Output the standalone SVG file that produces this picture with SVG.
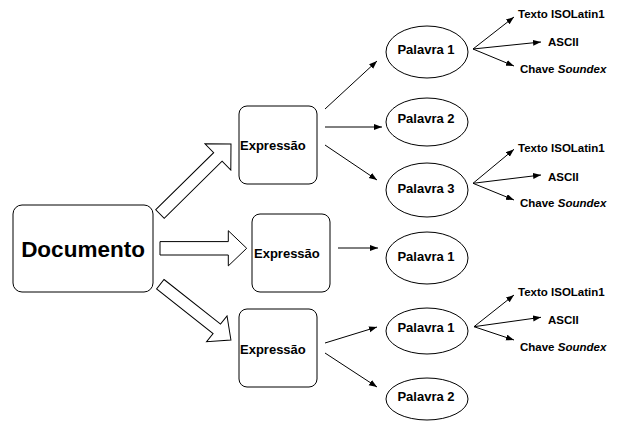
<svg xmlns="http://www.w3.org/2000/svg" width="618" height="421" viewBox="0 0 618 421">
<defs>
<marker id="ah" markerUnits="userSpaceOnUse" markerWidth="9" markerHeight="7" refX="8" refY="3" orient="auto">
<path d="M0,0 L8,3 L0,6 z" fill="#000"/>
</marker>
<style>
.box{fill:#fff;stroke:#000;stroke-width:1}
.blk{fill:#fff;stroke:#000;stroke-width:1}
.ell{fill:#fff;stroke:#000;stroke-width:1}
.ln{stroke:#000;stroke-width:1;fill:none;marker-end:url(#ah)}
text{font-family:"Liberation Sans",Arial,sans-serif;font-weight:bold;fill:#000}
.t13{font-size:13px}
.pal{font-size:13px;text-anchor:middle}
.sm{font-size:11.5px}
.doc{font-size:22.5px;text-anchor:middle}
</style>
</defs>
<rect width="618" height="421" fill="#fff"/>

<g id="documento">
<rect class="box" x="13" y="205" width="140" height="87" rx="9"/>
<text class="doc" x="83" y="256.5">Documento</text>
</g>

<g id="block-arrows">
<path class="blk" transform="translate(160,214) rotate(-44.6)" d="M0,-6 H81.3 V-18.4 L99.7,0 L81.3,18.4 V6 H0 Z"/>
<path class="blk" transform="translate(160,248.3)" d="M0,-6.7 H68.3 V-17.6 L86.7,0 L68.3,17.6 V6.7 H0 Z"/>
<path class="blk" transform="translate(160.3,284.2) rotate(38.3)" d="M0,-6 H72 V-16.5 L90,0 L72,16.5 V6 H0 Z"/>
</g>

<g id="expressao1">
<rect class="box" x="239" y="106" width="78" height="78" rx="8"/>
<text class="t13" x="240" y="149.7">Expressão</text>
</g>
<g id="expressao2">
<rect class="box" x="252" y="214" width="78" height="78" rx="8"/>
<text class="t13" x="254" y="258">Expressão</text>
</g>
<g id="expressao3">
<rect class="box" x="239" y="309" width="78" height="78" rx="8"/>
<text class="t13" x="240" y="354">Expressão</text>
</g>

<g id="palavra1a">
<ellipse class="ell" cx="427" cy="52" rx="41" ry="26"/>
<text class="pal" x="426" y="54">Palavra 1</text>
</g>
<g id="palavra2a">
<ellipse class="ell" cx="427" cy="122" rx="41" ry="24"/>
<text class="pal" x="426" y="123.2">Palavra 2</text>
</g>
<g id="palavra3">
<ellipse class="ell" cx="427" cy="190" rx="41" ry="27"/>
<text class="pal" x="426" y="193">Palavra 3</text>
</g>
<g id="palavra1b">
<ellipse class="ell" cx="427" cy="258" rx="41" ry="26"/>
<text class="pal" x="426" y="261.4">Palavra 1</text>
</g>
<g id="palavra1c">
<ellipse class="ell" cx="427" cy="331" rx="41" ry="23"/>
<text class="pal" x="426" y="332.2">Palavra 1</text>
</g>
<g id="palavra2b">
<ellipse class="ell" cx="427" cy="399" rx="41" ry="21"/>
<text class="pal" x="426" y="401">Palavra 2</text>
</g>

<g id="labels-1">
<text class="sm" x="518" y="18.1">Texto ISOLatin1</text>
<text class="sm" x="548" y="46">ASCII</text>
<text class="sm" x="520" y="73.1">Chave <tspan font-style="italic">Soundex</tspan></text>
</g>
<g id="labels-2">
<text class="sm" x="518" y="152.4">Texto ISOLatin1</text>
<text class="sm" x="548" y="180.8">ASCII</text>
<text class="sm" x="520" y="207.4">Chave <tspan font-style="italic">Soundex</tspan></text>
</g>
<g id="labels-3">
<text class="sm" x="518" y="295.8">Texto ISOLatin1</text>
<text class="sm" x="548" y="324.1">ASCII</text>
<text class="sm" x="520" y="350.8">Chave <tspan font-style="italic">Soundex</tspan></text>
</g>

<g id="connectors">
<line class="ln" x1="325" y1="109" x2="377" y2="61"/>
<line class="ln" x1="325" y1="127" x2="382" y2="127"/>
<line class="ln" x1="325" y1="145" x2="377" y2="180"/>
<line class="ln" x1="338" y1="248" x2="378" y2="248"/>
<line class="ln" x1="325" y1="343" x2="377" y2="327"/>
<line class="ln" x1="325" y1="353" x2="377" y2="387"/>

<line class="ln" x1="473" y1="49" x2="514" y2="17"/>
<line class="ln" x1="473" y1="49" x2="541" y2="42"/>
<line class="ln" x1="473" y1="49" x2="514" y2="66"/>

<line class="ln" x1="473" y1="183.3" x2="514" y2="149.3"/>
<line class="ln" x1="473" y1="183.3" x2="541" y2="175"/>
<line class="ln" x1="473" y1="183.3" x2="514" y2="200"/>

<line class="ln" x1="474" y1="326.7" x2="514" y2="295"/>
<line class="ln" x1="474" y1="326.7" x2="541" y2="317.3"/>
<line class="ln" x1="474" y1="326.7" x2="514" y2="340"/>
</g>
</svg>
